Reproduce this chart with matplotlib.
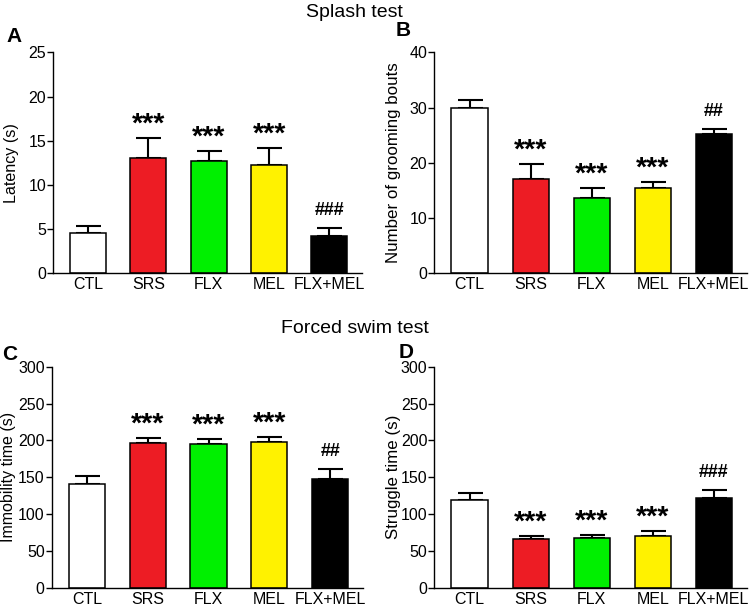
import numpy as np
import matplotlib.pyplot as plt

plt.rcParams['font.family'] = ['Liberation Sans', 'DejaVu Sans']

groups = ['CTL', 'SRS', 'FLX', 'MEL', 'FLX+MEL']
colors = ['white', '#ED1C24', '#00F000', '#FFF200', 'black']

# Splash test
latency = [4.55, 13.08, 12.74, 12.22, 4.25]
latency_err = [0.75, 2.26, 1.13, 1.99, 0.91]
grooming = [29.86, 17.07, 13.69, 15.38, 25.16]
grooming_err = [1.6, 2.8, 1.8, 1.2, 0.9]

# Forced swim test
immobility = [140.4, 196.0, 195.0, 197.4, 147.1]
immobility_err = [11.6, 7.6, 7.3, 6.8, 14.0]
struggle = [119.0, 65.6, 67.0, 70.2, 122.2]
struggle_err = [10.0, 5.0, 4.5, 7.2, 10.0]

sig_A = ['', '***', '***', '***', '###']
sig_B = ['', '***', '***', '***', '##']
sig_C = ['', '***', '***', '***', '##']
sig_D = ['', '***', '***', '***', '###']

fig = plt.figure(figsize=(7.5, 6.07), dpi=100)

# letter, rect, values, errors, marks, ylabel, label size, ymax, step, ylabel x, letter x, letter y
panels = [
    ('A', [0.0707, 0.5497, 0.412, 0.3641], latency, latency_err, sig_A, 'Latency (s)', 11.6, 25, 5, -0.11, -0.125, 1.045),
    ('B', [0.579, 0.5497, 0.4166, 0.3641], grooming, grooming_err, sig_B, 'Number of grooming bouts', 12.2, 40, 10, -0.105, -0.10, 1.073),
    ('C', [0.0689, 0.0318, 0.4151, 0.3641], immobility, immobility_err, sig_C, 'Immobility time (s)', 11.5, 300, 50, -0.115, -0.134, 1.03),
    ('D', [0.579, 0.0318, 0.4166, 0.3641], struggle, struggle_err, sig_D, 'Struggle time (s)', 12.2, 300, 50, -0.105, -0.09, 1.038),
]

x = np.arange(len(groups))
for letter, rect, vals, errs, sig, ylab, lsize, ymax, step, ylx, lx, ly in panels:
    ax = fig.add_axes(rect)
    ax.bar(x, vals, width=0.595, color=colors, edgecolor='black', linewidth=1.1, zorder=2)
    ax.errorbar(x, vals, yerr=[np.zeros(len(vals)), errs], fmt='none', ecolor='black',
                elinewidth=1.5, capsize=9, capthick=1.5, zorder=1)
    for xi, v, e, s in zip(x, vals, errs, sig):
        if s.startswith('*'):
            ax.annotate(s, (xi, v + e), xytext=(0, 4.5), textcoords='offset points',
                        ha='center', va='baseline', fontsize=20.5, fontweight='bold')
        elif s:
            ax.annotate(s, (xi, v + e), xytext=(0, 9.5), textcoords='offset points',
                        ha='center', va='baseline', fontsize=13, fontweight='bold')
    ax.set_xlim(-0.58, 4.54)
    ax.set_ylim(0, ymax)
    ax.set_yticks(np.arange(0, ymax + 1, step))
    ax.set_xticks(x)
    ax.set_xticklabels(groups, fontsize=11.5)
    ax.tick_params(axis='x', length=0, pad=3)
    ax.tick_params(axis='y', length=4, width=1, labelsize=11.5, pad=1)
    ax.spines['top'].set_visible(False)
    ax.spines['right'].set_visible(False)
    ax.spines['left'].set_linewidth(1)
    ax.spines['bottom'].set_linewidth(1)
    ax.set_ylabel(ylab, fontsize=lsize)
    ax.yaxis.set_label_coords(ylx, 0.5)
    ax.text(lx, ly, letter, transform=ax.transAxes, fontsize=15, fontweight='bold',
            ha='center', va='baseline')

fig.text(0.473, 0.972, 'Splash test', ha='center', va='baseline', fontsize=14)
fig.text(0.473, 0.4514, 'Forced swim test', ha='center', va='baseline', fontsize=14)

fig.savefig('out.png', dpi=100)
